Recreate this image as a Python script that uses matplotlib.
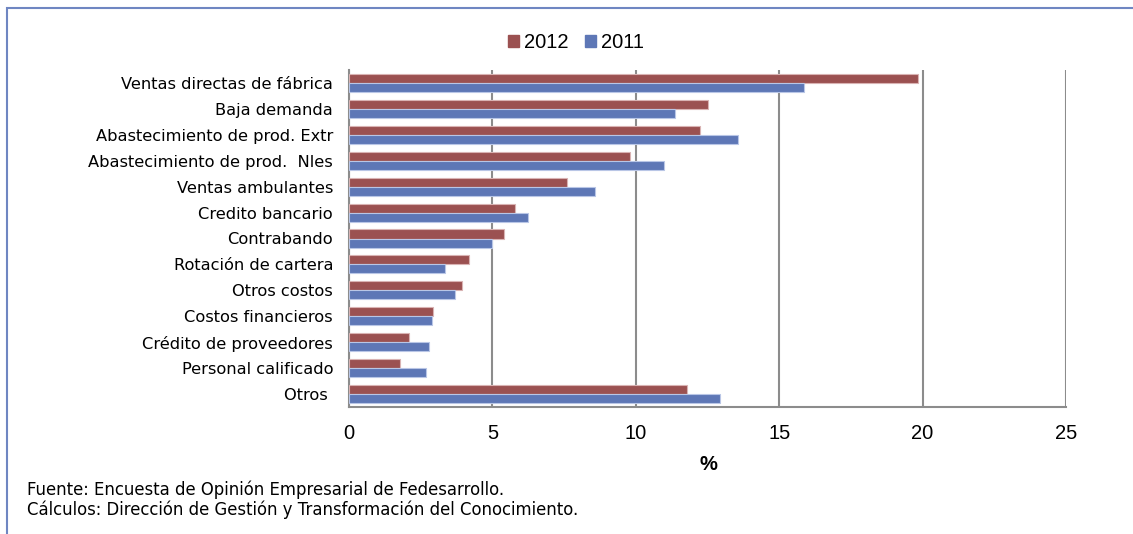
import matplotlib
matplotlib.use("Agg")
import matplotlib.pyplot as plt
from matplotlib.patches import Rectangle, Patch
import numpy as np

plt.rcParams['font.family'] = ['Liberation Sans', 'DejaVu Sans']

categories = ["Ventas directas de fábrica", "Baja demanda", "Abastecimiento de prod. Extr",
              "Abastecimiento de prod.  Nles", "Ventas ambulantes", "Credito bancario",
              "Contrabando", "Rotación de cartera", "Otros costos", "Costos financieros",
              "Crédito de proveedores", "Personal calificado", "Otros "]
v2012 = [19.85, 12.52, 12.24, 9.80, 7.59, 5.79, 5.42, 4.17, 3.93, 2.93, 2.08, 1.79, 11.79]
v2011 = [15.85, 11.36, 13.56, 10.97, 8.57, 6.24, 4.98, 3.35, 3.71, 2.90, 2.79, 2.69, 12.94]
xticks = [0, 5, 10, 15, 20, 25]

c2012 = "#9B5151"
c2011 = "#5E77B6"

fig = plt.figure(figsize=(11.33, 5.34), dpi=100)
ax = fig.add_axes([349/1133, 127/534, 717/1133, 337/534])

y = np.arange(len(categories))
h = 0.35
ax.barh(y - h/2, v2012, height=h, color=c2012, edgecolor="#D9B3B3", linewidth=0.8, zorder=3)
ax.barh(y + h/2, v2011, height=h, color=c2011, edgecolor="#B9C6E6", linewidth=0.8, zorder=3)

ax.set_ylim(len(categories) - 0.5, -0.5)
ax.set_xlim(0, 25)
ax.set_xticks(xticks)
ax.set_xticklabels([str(t) for t in xticks], fontsize=14.5)
ax.set_yticks(y)
ax.set_yticklabels(categories, fontsize=11.7, family='DejaVu Sans')
ax.tick_params(axis='y', length=0, pad=11.5)
ax.tick_params(axis='x', length=0, pad=12.5)
ax.grid(axis='x', color="#8C8C8C", linewidth=1.5, zorder=0)
for s in ['top', 'right']:
    ax.spines[s].set_visible(False)
for s in ['left', 'bottom']:
    ax.spines[s].set_color("#8C8C8C")
    ax.spines[s].set_linewidth(1.5)

fig.text(708/1133, 1 - 464/534, "%", fontsize=14.5, fontweight='bold', ha='center', va='center')

handles = [Patch(color=c2012, label="2012"), Patch(color=c2011, label="2011")]
fig.legend(handles=handles, loc='center', bbox_to_anchor=(576/1133, 1 - 43/534), ncol=2,
           frameon=False, fontsize=14.5, handlelength=0.55, handleheight=0.55,
           handletextpad=0.25, columnspacing=0.85, borderpad=0)

fig.text(27/1133, 1 - 490/534, "Fuente: Encuesta de Opinión Empresarial de Fedesarrollo.",
         fontsize=11.9, va='center', ha='left', family='DejaVu Sans')
fig.text(27/1133, 1 - 510/534, "Cálculos: Dirección de Gestión y Transformación del Conocimiento.",
         fontsize=11.9, va='center', ha='left', family='DejaVu Sans')

fig.patches.append(Rectangle((7/1133, -0.1), 1.2, 1.1 - 8/534, transform=fig.transFigure,
                             fill=False, edgecolor="#6F86C2", linewidth=1.5))

fig.savefig("out.png", dpi=100)
